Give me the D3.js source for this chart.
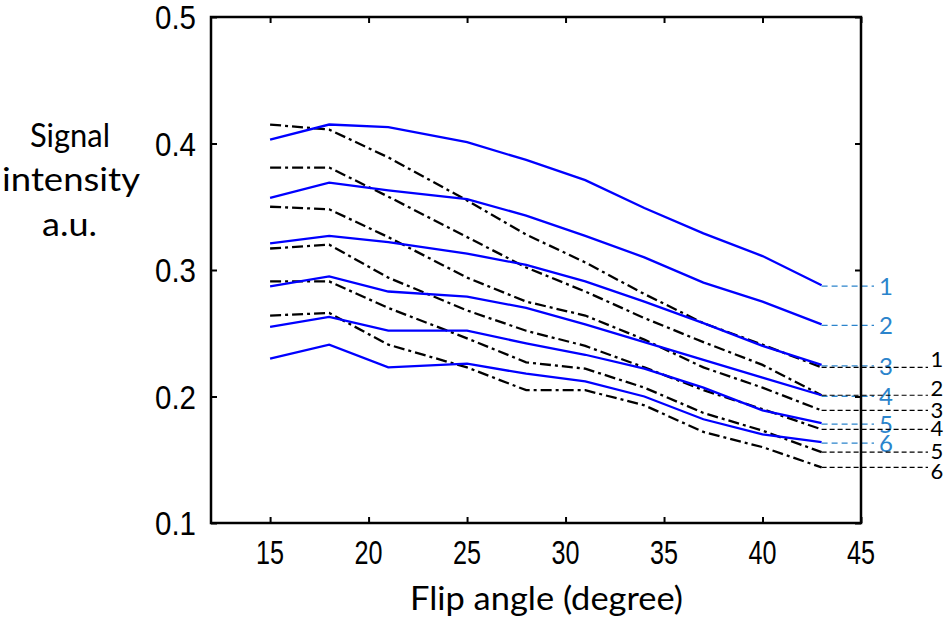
<!DOCTYPE html>
<html>
<head>
<meta charset="utf-8">
<script src="https://cdn.jsdelivr.net/npm/d3@7"></script>
<style>
	body { margin: 0; background: #fff; }
	svg { display: block; }
</style>
</head>
<body>
<div id="chart"></div>
<script>
// data
var angles = [15, 18, 21, 25, 28, 31, 34, 37, 40, 43];

var blue1 = [0.403, 0.415, 0.413, 0.401, 0.387, 0.371, 0.349, 0.329, 0.311, 0.288];
var blue2 = [0.357, 0.369, 0.363, 0.356, 0.343, 0.327, 0.310, 0.290, 0.275, 0.257];
var blue3 = [0.321, 0.327, 0.322, 0.313, 0.304, 0.291, 0.275, 0.258, 0.240, 0.225];
var blue4 = [0.287, 0.295, 0.283, 0.279, 0.270, 0.257, 0.243, 0.229, 0.215, 0.201];
var blue5 = [0.255, 0.263, 0.252, 0.252, 0.242, 0.233, 0.222, 0.207, 0.189, 0.179];
var blue6 = [0.230, 0.241, 0.223, 0.226, 0.218, 0.212, 0.200, 0.182, 0.170, 0.164];

var black1 = [0.415, 0.411, 0.389, 0.355, 0.328, 0.306, 0.281, 0.258, 0.241, 0.223];
var black2 = [0.381, 0.381, 0.358, 0.326, 0.302, 0.283, 0.262, 0.243, 0.225, 0.201];
var black3 = [0.350, 0.348, 0.326, 0.294, 0.275, 0.264, 0.245, 0.223, 0.207, 0.189];
var black4 = [0.317, 0.320, 0.294, 0.268, 0.252, 0.240, 0.223, 0.205, 0.190, 0.174];
var black5 = [0.291, 0.291, 0.270, 0.246, 0.227, 0.222, 0.207, 0.187, 0.173, 0.156];
var black6 = [0.264, 0.266, 0.241, 0.223, 0.205, 0.205, 0.193, 0.172, 0.160, 0.144];

var seriesNames = ['1', '2', '3', '4', '5', '6'];
var xTicks = [15, 20, 25, 30, 35, 40, 45];
var yTicks = [0.1, 0.2, 0.3, 0.4, 0.5];

var blueSeries = [blue1, blue2, blue3, blue4, blue5, blue6];
var blackSeries = [black1, black2, black3, black4, black5, black6];

// small nudges so the stacked black labels sit like in the figure
var blackLabelShift = [-8, -7, 0, -1, -1, 4];

var width = 946,
	height = 623,
	pLeft = 211, pRight = 861, pTop = 17, pBottom = 523;

var x = d3.scaleLinear().domain([12, 45]).range([pLeft, pRight]);
var y = d3.scaleLinear().domain([0.1, 0.5]).range([pBottom, pTop]);

var svg = d3.select('#chart').append('svg')
	.attr('width', width)
	.attr('height', height)
	.style('background', '#fff');

var line = d3.line()
	.x(function(d, i){ return x(angles[i]); })
	.y(function(d){ return y(d); });

// black dash-dot curves
svg.selectAll('.black').data(blackSeries)
	.enter().append('path')
	.attr('class', 'black')
	.attr('d', line)
	.attr('fill', 'none')
	.attr('stroke', '#000')
	.attr('stroke-width', 2.3)
	.attr('stroke-dasharray', '11,4,3,4');

// blue solid curves
svg.selectAll('.blue').data(blueSeries)
	.enter().append('path')
	.attr('class', 'blue')
	.attr('d', line)
	.attr('fill', 'none')
	.attr('stroke', '#0000ff')
	.attr('stroke-width', 2.3);

// label leaders at the right end
var last = angles.length - 1;

svg.selectAll('.bleader').data(blueSeries)
	.enter().append('line')
	.attr('x1', x(angles[last]))
	.attr('x2', 874)
	.attr('y1', function(d){ return y(d[last]) + 1; })
	.attr('y2', function(d){ return y(d[last]) + 1; })
	.attr('stroke', '#2b84cc')
	.attr('stroke-width', 1.3)
	.attr('stroke-dasharray', '6,4');

svg.selectAll('.blabel').data(blueSeries)
	.enter().append('text')
	.attr('x', 886)
	.attr('y', function(d){ return y(d[last]) + 10; })
	.attr('text-anchor', 'middle')
	.style('font-family', 'Lato, sans-serif')
	.style('font-size', '24px')
	.style('fill', '#2b84cc')
	.text(function(d, i){ return seriesNames[i]; });

svg.selectAll('.kleader').data(blackSeries)
	.enter().append('line')
	.attr('x1', x(angles[last]))
	.attr('x2', 928)
	.attr('y1', function(d){ return y(d[last]); })
	.attr('y2', function(d){ return y(d[last]); })
	.attr('stroke', '#000')
	.attr('stroke-width', 1.2)
	.attr('stroke-dasharray', '5,3');

svg.selectAll('.klabel').data(blackSeries)
	.enter().append('text')
	.attr('x', 937)
	.attr('y', function(d, i){ return y(d[last]) + blackLabelShift[i] + 8; })
	.attr('text-anchor', 'middle')
	.style('font-family', 'Lato, sans-serif')
	.style('font-size', '22px')
	.style('fill', '#000')
	.text(function(d, i){ return seriesNames[i]; });

// frame and inward ticks on all four sides
svg.append('rect')
	.attr('x', pLeft).attr('y', pTop)
	.attr('width', pRight - pLeft).attr('height', pBottom - pTop)
	.attr('fill', 'none')
	.attr('stroke', '#000')
	.attr('stroke-width', 2.5);

svg.append('g').attr('transform', 'translate(0,' + pBottom + ')')
	.call(d3.axisTop(x).tickValues(xTicks).tickSize(6).tickFormat(''))
	.call(function(g){ g.select('.domain').remove(); });
svg.append('g').attr('transform', 'translate(0,' + pTop + ')')
	.call(d3.axisBottom(x).tickValues(xTicks).tickSize(6).tickFormat(''))
	.call(function(g){ g.select('.domain').remove(); });
svg.append('g').attr('transform', 'translate(' + pLeft + ',0)')
	.call(d3.axisRight(y).tickValues(yTicks).tickSize(6).tickFormat(''))
	.call(function(g){ g.select('.domain').remove(); });
svg.append('g').attr('transform', 'translate(' + pRight + ',0)')
	.call(d3.axisLeft(y).tickValues(yTicks).tickSize(6).tickFormat(''))
	.call(function(g){ g.select('.domain').remove(); });

svg.selectAll('.tick line').attr('stroke', '#000').attr('stroke-width', 2);

// tick labels (the original text is narrow and tall)
svg.selectAll('.xlab').data(xTicks)
	.enter().append('text')
	.attr('x', function(d){ return x(d) - 14; })
	.attr('y', 564)
	.attr('textLength', 28)
	.attr('lengthAdjust', 'spacingAndGlyphs')
	.style('font-family', '"Liberation Sans", Arial, sans-serif')
	.style('font-size', '33px')
	.text(function(d){ return d; });

svg.selectAll('.ylab').data(yTicks)
	.enter().append('text')
	.attr('x', 155)
	.attr('y', function(d){ return y(d) + 12; })
	.attr('textLength', 41)
	.attr('lengthAdjust', 'spacingAndGlyphs')
	.style('font-family', '"Liberation Sans", Arial, sans-serif')
	.style('font-size', '33px')
	.text(function(d){ return d.toFixed(1); });

// axis titles
svg.append('text')
	.attr('x', 410).attr('y', 610)
	.attr('textLength', 273)
	.attr('lengthAdjust', 'spacingAndGlyphs')
	.style('font-family', 'Lato, sans-serif')
	.style('font-size', '33px')
	.text('Flip angle (degree)');

var yTitle = [['Signal', 30, 147, 80], ['intensity', 2, 191, 138], ['a.u.', 42, 236, 55]];
svg.selectAll('.ytitle').data(yTitle)
	.enter().append('text')
	.attr('x', function(d){ return d[1]; })
	.attr('y', function(d){ return d[2]; })
	.attr('textLength', function(d){ return d[3]; })
	.attr('lengthAdjust', 'spacingAndGlyphs')
	.style('font-family', 'Lato, sans-serif')
	.style('font-size', '32px')
	.text(function(d){ return d[0]; });
</script>
</body>
</html>
